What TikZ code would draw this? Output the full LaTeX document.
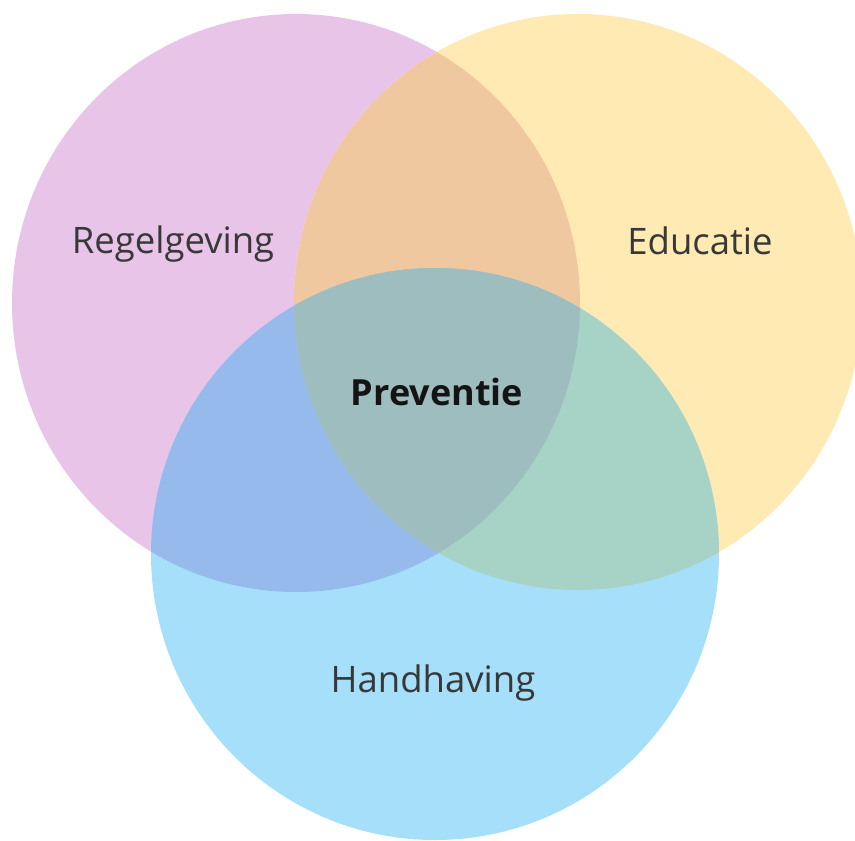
\documentclass[tikz,border=0pt]{standalone}
\usepackage{fontspec}
\setmainfont{Open Sans}
\definecolor{regelcol}{HTML}{E8C4E8}
\definecolor{educol}{HTML}{FFEAB4}
\definecolor{handcol}{HTML}{A6DFF9}
\definecolor{regeducol}{HTML}{F0C8A0}
\definecolor{reghandcol}{HTML}{96BAEC}
\definecolor{eduhandcol}{HTML}{A7D3C6}
\definecolor{allcol}{HTML}{9EBDBE}
\tikzset{
  setname/.style={font=\fontsize{36.5}{40}\selectfont, text=black!78, inner sep=0pt, anchor=base},
  corename/.style={setname, font=\fontsize{36}{40}\selectfont\bfseries, text=black!92}
}
\begin{document}
\begin{tikzpicture}[x=1pt,y=-1pt]
\useasboundingbox (0,0) rectangle (855,841);
\clip (0,0) rectangle (855,841);
\def\regel{(296,303) ellipse [x radius=284pt, y radius=289pt]}
\def\edu{(578,302) ellipse [x radius=284pt, y radius=288pt]}
\def\hand{(435,554) ellipse [x radius=284pt, y radius=286pt]}
% the three sets
\fill[regelcol] \regel;
\fill[educol] \edu;
\fill[handcol] \hand;
% overlaps of two
\begin{scope}
\clip \regel;
\fill[regeducol] \edu;
\fill[reghandcol] \hand;
\end{scope}
\begin{scope}
\clip \edu;
\fill[eduhandcol] \hand;
\end{scope}
% overlap of all three
\begin{scope}
\clip \regel;
\clip \edu;
\fill[allcol] \hand;
\end{scope}
% names
\node[setname] (regelgeving) at (173,253) {Regelgeving};
\node[setname] (educatie) at (700,254) {Educatie};
\node[setname] (handhaving) at (433,692) {Handhaving};
\node[corename] (preventie) at (437,405) {Preventie};
\end{tikzpicture}
\end{document}
